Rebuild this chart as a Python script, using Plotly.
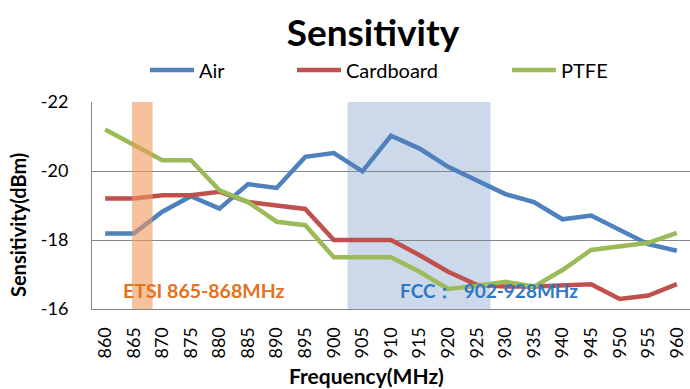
import plotly.graph_objects as go

freq = [860, 865, 870, 875, 880, 885, 890, 895, 900, 905, 910,
        915, 920, 925, 930, 935, 940, 945, 950, 955, 960]
air = [-18.19, -18.19, -18.82, -19.27, -18.91, -19.62, -19.51, -20.41, -20.52, -19.99, -21.02,
       -20.65, -20.12, -19.73, -19.33, -19.1, -18.6, -18.71, -18.29, -17.88, -17.69]
cardboard = [-19.2, -19.2, -19.3, -19.3, -19.4, -19.1, -19.0, -18.9, -18.0, -18.0, -18.0,
             -17.56, -17.08, -16.7, -16.65, -16.65, -16.7, -16.72, -16.29, -16.39, -16.72]
ptfe = [-21.2, -20.75, -20.31, -20.31, -19.44, -19.1, -18.53, -18.43, -17.5, -17.5, -17.5,
        -17.08, -16.58, -16.67, -16.79, -16.65, -17.13, -17.71, -17.8, -17.92, -18.21]
series_names = ["Air", "Cardboard", "PTFE"]
colors = ["#4F81BD", "#C0504D", "#9BBB59"]
etsi_band = [864.7, 868.3]
fcc_band = [902.4, 927.4]
y_ticks = [-22, -20, -18, -16]

FONT = "Lato"

fig = go.Figure()
legend_ids = ["legend", "legend2", "legend3"]
for name, vals, col, lg in zip(series_names, [air, cardboard, ptfe], colors, legend_ids):
    fig.add_trace(go.Scatter(x=freq, y=vals, mode="lines", name=name, showlegend=True,
                             line=dict(color=col, width=4.5), legend=lg))

fig.add_shape(type="rect", xref="x", yref="paper", x0=fcc_band[0], x1=fcc_band[1],
              y0=0, y1=1, fillcolor="#CCD9EA", line_width=0, layer="below")
fig.add_shape(type="rect", xref="x", yref="paper", x0=etsi_band[0], x1=etsi_band[1],
              y0=0, y1=1, fillcolor="#EE9A5C", opacity=0.6, line_width=0, layer="above")

fig.add_annotation(x=862.8, y=-16.55, xref="x", yref="y", text="<b>ETSI 865-868MHz</b>",
                   showarrow=False, xanchor="left", font=dict(family=FONT, size=19.5, color="#E4711E"))
fig.add_annotation(x=911.3, y=-16.55, xref="x", yref="y", text="<b>FCC：  902-928MHz</b>",
                   showarrow=False, xanchor="left", font=dict(family=FONT, size=19, color="#2F78C4"))
# axis titles (paper coords relative to plot area)
fig.add_annotation(x=(366 - 92) / (690 - 92), y=(389 - 80 - 375) / (389 - 80 - 102),
                   xref="paper", yref="paper",
                   text="<b>Frequency(MHz)</b>", showarrow=False, xanchor="center", yanchor="middle",
                   font=dict(family=FONT, size=21, color="#000"))
fig.add_annotation(x=(18 - 92) / (690 - 92), y=(389 - 80 - 225) / (389 - 80 - 102),
                   xref="paper", yref="paper",
                   text="<b>Sensitivity(dBm)</b>", showarrow=False, textangle=-90,
                   xanchor="center", yanchor="middle",
                   font=dict(family=FONT, size=20, color="#000"))

leg_common = dict(orientation="h", xref="container", yref="container", yanchor="middle",
                  xanchor="left", font=dict(family=FONT, size=20, color="#000"),
                  bgcolor="rgba(0,0,0,0)", itemwidth=44)
fig.update_layout(
    width=690, height=389,
    margin=dict(l=92, r=0, t=102, b=80, autoexpand=False),
    paper_bgcolor="white", plot_bgcolor="white",
    showlegend=True,
    title=dict(text="<b>Sensitivity</b>", x=373 / 690, xanchor="center", y=1 - 33 / 389,
               yanchor="middle", yref="container",
               font=dict(family=FONT, size=37, color="#000")),
    legend=dict(x=145 / 690, y=1 - 70 / 389, **leg_common),
    legend2=dict(x=292 / 690, y=1 - 70 / 389, **leg_common),
    legend3=dict(x=507 / 690, y=1 - 70 / 389, **leg_common),
    xaxis=dict(range=[857.7, 962.3], tickvals=freq, ticktext=[str(f) for f in freq],
               tickangle=-90, showgrid=False, showline=True, linecolor="#868686", linewidth=1,
               ticks="", ticklabelstandoff=10, automargin=False,
               tickfont=dict(family=FONT, size=18, color="#000"),
               zeroline=False),
    yaxis=dict(range=[-16, -22], tickvals=y_ticks, ticktext=[str(v) for v in y_ticks],
               showgrid=True, gridcolor="#868686", gridwidth=1, showline=True,
               linecolor="#868686", linewidth=1, ticks="", zeroline=False,
               ticklabelstandoff=19, automargin=False,
               tickfont=dict(family=FONT, size=18, color="#000")),
)
fig.write_html("out.html", post_script="document.body.style.margin='0';",
               config={"displayModeBar": False})
